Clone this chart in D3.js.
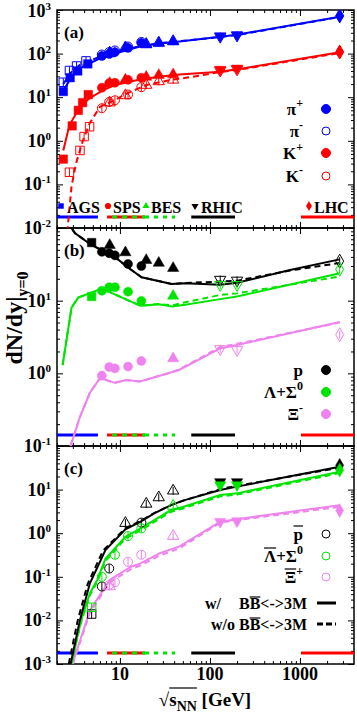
<!DOCTYPE html>
<html>
<head>
<meta charset="utf-8">
<script src="https://cdn.jsdelivr.net/npm/d3@7"></script>
<style>
body { margin: 0; background: #fff; }
svg { display: block; }
text { font-family: "Liberation Serif", "Times New Roman", serif; font-weight: bold; fill: #000; }
</style>
</head>
<body>
<svg id="chart" width="357" height="714"></svg>
<script>
// collision energies sqrt(s_NN) in GeV, values are dN/dy at y=0

// ---- panel (a): pions and kaons ----
const piPlusAGS = [[2.35,13.5],[2.8,28],[3.4,40],[4.4,58]];
const piMinusAGS = [[2.35,22],[2.75,41],[3.3,52],[4.2,68]];
const piPlusSPS = [[6.3,88],[7.6,98],[8.8,108],[12.3,135],[17.3,175]];
const piMinusSPS = [[6.3,95],[7.6,108],[8.8,118],[12.3,145],[17.3,185]];
const piPlusBES = [[7.7,100],[11.5,132],[19.6,160],[27,172],[39,187]];
const piMinusBES = [[7.7,105],[11.5,138],[19.6,165],[27,178],[39,192]];
const piPlusRHIC = [[130,253],[200,267]];
const piMinusRHIC = [[130,245],[200,262]];
const piPlusLHC = [[2760,733]];
const piMinusLHC = [[2760,733]];

const kPlusAGS = [[2.35,0.38],[2.95,2.2],[3.45,5],[3.85,7.5],[4.45,11.5]];
const kMinusAGS = [[2.75,0.19],[3.6,0.6],[4.0,1.25],[4.6,2.1]];
const kPlusSPS = [[6.3,16.5],[7.6,21],[8.8,21.5],[12.3,25],[17.3,28]];
const kMinusSPS = [[6.3,5.6],[7.6,7.8],[8.8,8.5],[12.3,11.5],[17.3,17]];
const kPlusBES = [[7.7,21],[11.5,25],[19.6,29],[27,32],[39,33]];
const kMinusBES = [[7.7,7.5],[11.5,11],[19.6,19],[27,23],[39,25]];
const kPlusRHIC = [[130,43],[200,46]];
const kMinusRHIC = [[130,41],[200,43.5]];
const kPlusLHC = [[2760,110]];
const kMinusLHC = [[2760,108]];

const piPlusModel = [[2.35,14],[2.83,27],[3.6,46],[6,78],[8.8,100],[16.7,145],[27,170],[46,190],[130,244],[200,272],[2760,700]];
const piMinusModel = [[2.35,20],[2.83,36],[3.6,55],[6,85],[8.8,105],[16.7,150],[27,172],[46,192],[130,240],[200,266],[2760,690]];
const kPlusModel = [[2.35,0.6],[2.75,2.3],[3.6,6],[4.6,9.4],[6.5,14.6],[8.8,19],[16.7,25.5],[27,29.5],[46,33],[130,38.5],[200,43.6],[2760,108]];
const kMinusModel = [[2.6,0.008],[2.9,0.09],[3.25,0.3],[3.9,1.04],[4.6,2.5],[6,6],[8.8,8.6],[12,12.3],[19.8,19],[36,24.8],[62,29],[130,38],[200,42],[2760,103]];

// ---- panel (b): baryons ----
const pAGS = [[4.85,63]];
const pSPS = [[6.3,47],[7.6,45],[8.8,42],[12.3,32],[17.3,30]];
const pBES = [[7.7,58],[11.5,46],[19.6,36],[27,33],[39,28]];
const pRHIC = [[130,19.5],[200,19]];
const pLHC = [[2760,35]];
const lamAGS = [[4.85,11.4]];
const lamSPS = [[6.3,13.7],[7.6,15.3],[8.8,15.3],[12.3,13.3],[17.3,9.9]];
const lamBES = [[39,11.6]];
const lamRHIC = [[130,16.5],[200,16.5]];
const lamLHC = [[2760,27]];
const xiSPS = [[6.3,0.93],[7.6,1.22],[8.8,1.17],[12.3,1.24],[17.3,1.48]];
const xiBES = [[39,1.6]];
const xiRHIC = [[130,2.17],[200,2.1]];
const xiLHC = [[2760,3.4]];

const pModel = [[2.35,170],[2.9,100],[3.16,85],[4.85,58],[7.4,45],[8.8,40],[11.9,29.5],[17.4,21],[37.5,17],[52.7,17.3],[130,16.5],[200,17.6],[775,26.5],[2760,37]];
const pModelNo = [[2.35,170],[2.9,100],[3.16,85],[4.85,58],[7.4,45],[8.8,40],[11.9,29.5],[17.4,21],[37.5,17],[52.7,17.5],[130,18.3],[200,18.8],[775,26],[2760,33]];
const lamModel = [[2.31,1.3],[2.9,8],[3.44,11],[6,14.3],[7.5,13.3],[16.9,8.5],[27,8.9],[38,8.3],[53,8.8],[130,10.5],[200,11.4],[2760,23.8]];
const lamModelNo = [[2.31,1.3],[2.9,8],[3.44,11],[6,14.3],[7.5,13.3],[16.9,8.5],[27,9],[38,8.6],[53,9.5],[130,12],[200,12.6],[2760,21.5]];
const xiModel = [[2.83,0.1],[3.59,0.25],[4.64,0.54],[6,0.86],[8.8,0.74],[11.9,0.81],[16.7,0.77],[36,1.02],[46,1.12],[130,2.2],[200,2.45],[2760,5.1]];
const xiModelNo = [[2.83,0.1],[3.59,0.25],[4.64,0.54],[6,0.86],[8.8,0.74],[11.9,0.81],[16.7,0.77],[36,1.02],[46,1.14],[130,2.3],[200,2.55],[2760,5.0]];

// ---- panel (c): antibaryons ----
const pbarAGS = [[4.85,0.014]];
const pbarSPS = [[6.3,0.06],[7.6,0.155],[17.3,1.75]];
const pbarBES = [[11.5,1.7],[19.6,4.7],[27,6.6],[39,9.4]];
const pbarRHIC = [[130,15],[200,15]];
const pbarLHC = [[2760,36]];
const lbarAGS = [[4.85,0.02]];
const lbarSPS = [[6.3,0.1],[8.8,0.32],[12.3,0.86],[17.3,1.29]];
const lbarBES = [[39,4.2]];
const lbarRHIC = [[130,12.7],[200,12.7]];
const lbarLHC = [[2760,28]];
const xbarSPS = [[7.6,0.065],[8.8,0.075],[12.3,0.22],[17.3,0.32]];
const xbarBES = [[7.7,0.06],[39,0.86]];
const xbarRHIC = [[130,1.84],[200,1.9]];
const xbarLHC = [[2760,3.3]];

const pbarModel = [[2.83,0.001],[3.59,0.01],[4.64,0.071],[6.9,0.41],[11.5,1.23],[17,1.84],[24,2.86],[37,4.4],[50,5.6],[130,9.8],[200,11.7],[2760,33.5]];
const pbarModelNo = [[2.7,0.001],[3.4,0.01],[4.4,0.07],[6.5,0.4],[11.5,1.3],[17,1.9],[24,2.9],[37,4.4],[50,5.5],[130,10.3],[200,12.2],[2760,32]];
const lbarModel = [[2.9,0.001],[3.7,0.01],[4.64,0.042],[5.6,0.085],[6.9,0.26],[11.5,0.83],[17,1.29],[37,3.4],[50,4.0],[130,7.5],[200,8.2],[2760,25.7]];
const lbarModelNo = [[2.85,0.001],[3.7,0.009],[4.64,0.038],[5.6,0.077],[6.9,0.23],[11.5,0.75],[17,1.17],[37,3.1],[50,3.7],[130,7.0],[200,7.7],[2760,24]];
const xbarModel = [[2.96,0.001],[4.64,0.017],[7.7,0.085],[13.3,0.17],[16.7,0.2],[27.8,0.35],[46,0.5],[130,1.84],[200,2.1],[2760,4.4]];
const xbarModelNo = [[3.0,0.001],[4.64,0.015],[7.7,0.075],[13.3,0.15],[16.7,0.18],[27.8,0.31],[46,0.45],[130,1.75],[200,2.0],[2760,4.0]];

// facility energy ranges shown as bars at the bottom of each panel
const facilities = ['AGS', 'SPS', 'BES', 'RHIC', 'LHC'];
const facilityRanges = [[2, 5.7], [7.2, 19], [19, 41], [62, 190], [1025, 3981]];

const yTickExp = { a: [-2,-1,0,1,2,3], b: [-1,0,1], c: [-3,-2,-1,0,1] };
const xTickLabels = [10, 100, 1000];

const blue = '#0000ff', red = '#ff0000', green = '#00e400', pink = '#ee82ee', black = '#000';

const svg = d3.select('#chart');
const left = 57, right = 354;
const x = d3.scaleLog().domain([2, Math.pow(10, 3.6)]).range([left, right]);

const panels = [
    {id: 'a', top: 10, bottom: 228, dom: [1e-2, 1e3]},
    {id: 'b', top: 228, bottom: 446, dom: [1e-1, 1e2]},
    {id: 'c', top: 446, bottom: 664, dom: [1e-3, 1e2]}
];
panels.forEach(function(p) {
    p.y = d3.scaleLog().domain(p.dom).range([p.bottom, p.top]);
});
const P = {a: panels[0], b: panels[1], c: panels[2]};

// minor/major tick values
function logTicks(dom, minor) {
    let out = [];
    const lo = Math.floor(Math.log10(dom[0])), hi = Math.ceil(Math.log10(dom[1]));
    for (let e = lo; e <= hi; e++) {
        if (!minor) { out.push(Math.pow(10, e)); continue; }
        for (let m = 2; m <= 9; m++) out.push(m * Math.pow(10, e));
    }
    return out.filter(v => v >= dom[0] * 0.999 && v <= dom[1] * 1.001);
}

const defs = svg.append('defs');

panels.forEach(function(p) {
    defs.append('clipPath').attr('id', 'clip-' + p.id)
        .append('rect').attr('x', left).attr('y', p.top)
        .attr('width', right - left).attr('height', p.bottom - p.top);

    // ticks, inward on all sides
    const axes = [
        [d3.axisLeft(p.y), 'translate(' + left + ',0)', logTicks(p.dom, false), 6],
        [d3.axisLeft(p.y), 'translate(' + left + ',0)', logTicks(p.dom, true), 3],
        [d3.axisRight(p.y), 'translate(' + right + ',0)', logTicks(p.dom, false), 6],
        [d3.axisRight(p.y), 'translate(' + right + ',0)', logTicks(p.dom, true), 3],
        [d3.axisBottom(x), 'translate(0,' + p.bottom + ')', logTicks(x.domain(), false), 6],
        [d3.axisBottom(x), 'translate(0,' + p.bottom + ')', logTicks(x.domain(), true), 3],
        [d3.axisTop(x), 'translate(0,' + p.top + ')', logTicks(x.domain(), false), 6],
        [d3.axisTop(x), 'translate(0,' + p.top + ')', logTicks(x.domain(), true), 3]
    ];
    axes.forEach(function(a) {
        const ag = svg.append('g').attr('transform', a[1])
            .call(a[0].tickValues(a[2]).tickSize(-a[3]).tickFormat(''));
        ag.select('.domain').remove();
        ag.selectAll('line').attr('stroke', '#000').attr('stroke-width', 1);
    });

    // y tick labels 10^n
    yTickExp[p.id].forEach(function(e) {
        const yy = Math.max(p.y(Math.pow(10, e)) + 6, 17);
        const t = svg.append('text').attr('x', 51).attr('y', yy)
            .attr('text-anchor', 'end').attr('font-size', 18);
        t.append('tspan').text('10');
        t.append('tspan').attr('dy', -7).attr('font-size', 11).text(e < 0 ? '-' + (-e) : e);
    });
});

// x tick labels
xTickLabels.forEach(function(v) {
    svg.append('text').attr('x', x(v)).attr('y', 680).attr('text-anchor', 'middle')
        .attr('font-size', 18).text(v);
});

// frames
panels.forEach(function(p) {
    svg.append('rect').attr('x', left).attr('y', p.top)
        .attr('width', right - left).attr('height', p.bottom - p.top)
        .attr('fill', 'none').attr('stroke', '#000').attr('stroke-width', 1.5);
});

const symbols = {
    square: [d3.symbolSquare, 72, 0],
    circle: [d3.symbolCircle, 64, 0],
    up: [d3.symbolTriangle, 55, 0],
    down: [d3.symbolTriangle, 55, 180],
    diamond: [d3.symbolDiamond, 55, 0]
};

function drawLine(p, data, color, dashed) {
    const line = d3.line().x(d => x(d[0])).y(d => p.y(d[1]));
    svg.append('path').datum(data)
        .attr('clip-path', 'url(#clip-' + p.id + ')')
        .attr('d', line).attr('fill', 'none').attr('stroke', color)
        .attr('stroke-width', 2).attr('stroke-dasharray', dashed ? '6,4' : null);
}

function drawMarkers(p, data, shape, color, filled) {
    const s = symbols[shape];
    const g = svg.append('g').attr('clip-path', 'url(#clip-' + p.id + ')');
    const m = g.selectAll(null).data(data).enter().append('g')
        .attr('transform', d => 'translate(' + x(d[0]) + ',' + p.y(d[1]) + ') rotate(' + s[2] + ')');
    m.append('path').attr('d', d3.symbol().type(s[0]).size(s[1]))
        .attr('fill', filled ? color : 'none').attr('stroke', color)
        .attr('stroke-width', filled ? 0.5 : 1);
    if (!filled) {
        m.append('line').attr('y1', -4).attr('y2', 4).attr('stroke', color).attr('stroke-width', 1);
    }
}

// facility bars
panels.forEach(function(p) {
    const yb = p.bottom - 11;
    const seg = (r, color, dash, off) => svg.append('line')
        .attr('x1', x(r[0])).attr('x2', x(r[1])).attr('y1', yb).attr('y2', yb)
        .attr('stroke', color).attr('stroke-width', 3)
        .attr('stroke-dasharray', dash).attr('stroke-dashoffset', off || 0);
    seg(facilityRanges[0], blue, null);
    seg(facilityRanges[1], red, null);
    seg(facilityRanges[1], green, '5,5', 5);
    seg(facilityRanges[2], green, '4,5');
    seg(facilityRanges[3], black, null);
    seg(facilityRanges[4], red, null);
});

// ---- panel (a)
drawLine(P.a, piMinusModel, blue, true);
drawLine(P.a, piPlusModel, blue, false);
drawLine(P.a, kMinusModel, red, true);
drawLine(P.a, kPlusModel, red, false);
[
    [piPlusAGS, 'square', blue, true], [piMinusAGS, 'square', blue, false],
    [piPlusSPS, 'circle', blue, true], [piMinusSPS, 'circle', blue, false],
    [piPlusBES, 'up', blue, true], [piMinusBES, 'up', blue, false],
    [piPlusRHIC, 'down', blue, true], [piMinusRHIC, 'down', blue, false],
    [piPlusLHC, 'diamond', blue, true], [piMinusLHC, 'diamond', blue, false],
    [kPlusAGS, 'square', red, true], [kMinusAGS, 'square', red, false],
    [kPlusSPS, 'circle', red, true], [kMinusSPS, 'circle', red, false],
    [kPlusBES, 'up', red, true], [kMinusBES, 'up', red, false],
    [kPlusRHIC, 'down', red, true], [kMinusRHIC, 'down', red, false],
    [kPlusLHC, 'diamond', red, true], [kMinusLHC, 'diamond', red, false]
].forEach(s => drawMarkers(P.a, s[0], s[1], s[2], s[3]));

// ---- panel (b)
drawLine(P.b, pModelNo, black, true);
drawLine(P.b, pModel, black, false);
drawLine(P.b, lamModelNo, green, true);
drawLine(P.b, lamModel, green, false);
drawLine(P.b, xiModelNo, pink, true);
drawLine(P.b, xiModel, pink, false);
[
    [pAGS, 'square', black, true], [pSPS, 'circle', black, true], [pBES, 'up', black, true],
    [pRHIC, 'down', black, false], [pLHC, 'diamond', black, false],
    [lamAGS, 'square', green, true], [lamSPS, 'circle', green, true], [lamBES, 'up', green, true],
    [lamRHIC, 'down', green, false], [lamLHC, 'diamond', green, false],
    [xiSPS, 'circle', pink, true], [xiBES, 'up', pink, true],
    [xiRHIC, 'down', pink, false], [xiLHC, 'diamond', pink, false]
].forEach(s => drawMarkers(P.b, s[0], s[1], s[2], s[3]));

// ---- panel (c)
drawLine(P.c, xbarModelNo, pink, true);
drawLine(P.c, xbarModel, pink, false);
drawLine(P.c, lbarModelNo, green, true);
drawLine(P.c, lbarModel, green, false);
drawLine(P.c, pbarModelNo, black, true);
drawLine(P.c, pbarModel, black, false);
[
    [pbarAGS, 'square', black, false], [pbarSPS, 'circle', black, false], [pbarBES, 'up', black, false],
    [pbarRHIC, 'down', black, true], [pbarLHC, 'diamond', black, true],
    [lbarAGS, 'square', green, false], [lbarSPS, 'circle', green, false], [lbarBES, 'up', green, false],
    [lbarRHIC, 'down', green, true], [lbarLHC, 'diamond', green, true],
    [xbarSPS, 'circle', pink, false], [xbarBES, 'up', pink, false],
    [xbarRHIC, 'down', pink, true], [xbarLHC, 'diamond', pink, true]
].forEach(s => drawMarkers(P.c, s[0], s[1], s[2], s[3]));

// panel labels
[['(a)', 38], ['(b)', 256], ['(c)', 474]].forEach(function(l) {
    svg.append('text').attr('x', 64).attr('y', l[1]).attr('font-size', 17).text(l[0]);
});

// facility names in (a)
const facMarks = [['square', blue, 61], ['circle', red, 108], ['up', green, 146], ['down', black, 195], ['diamond', red, 309]];
const facTextX = [67, 113, 151, 201, 314];
facilities.forEach(function(f, i) {
    const s = symbols[facMarks[i][0]];
    svg.append('path').attr('d', d3.symbol().type(s[0]).size(i === 2 || i === 3 ? 22 : 30))
        .attr('transform', 'translate(' + facMarks[i][2] + ',206) rotate(' + s[2] + ')')
        .attr('fill', facMarks[i][1]);
    svg.append('text').attr('x', facTextX[i]).attr('y', 213).attr('font-size', 16).text(f);
});

// overline helper using character positions
function overline(t, i0, i1, yy) {
    const n = t.node();
    const a = n.getStartPositionOfChar(i0).x, b = n.getEndPositionOfChar(i1).x;
    svg.append('line').attr('x1', a).attr('x2', b).attr('y1', yy).attr('y2', yy)
        .attr('stroke', '#000').attr('stroke-width', 1.2);
}

function legendText(xr, yc, parts) {
    const t = svg.append('text').attr('x', xr).attr('y', yc + 6).attr('text-anchor', 'end').attr('font-size', 17);
    parts.forEach(function(pt) {
        const s = t.append('tspan').text(pt[0]);
        if (pt[1]) s.attr('dy', pt[1]).attr('font-size', 12);
    });
    return t;
}
function legendDot(yc, color, filled, r) {
    svg.append('circle').attr('cx', 326).attr('cy', yc).attr('r', r)
        .attr('fill', filled ? color : 'none').attr('stroke', color).attr('stroke-width', 1);
}

// legend (a)
legendText(303, 109, [['π'], ['+', -8]]); legendDot(109, blue, true, 4.5);
legendText(303, 131, [['π'], ['-', -8]]); legendDot(131, blue, false, 4);
legendText(303, 153, [['K'], ['+', -8]]); legendDot(153, red, true, 4.5);
legendText(303, 176, [['K'], ['-', -8]]); legendDot(176, red, false, 4);

// legend (b)
legendText(303, 370, [['p']]); legendDot(370, black, true, 4.5);
legendText(303, 392, [['Λ+Σ'], ['0', -8]]); legendDot(392, green, true, 4.5);
legendText(303, 414, [['Ξ'], ['-', -8]]); legendDot(414, pink, true, 4.5);

// legend (c)
const lp = legendText(303, 534, [['p']]); legendDot(534, black, false, 4);
overline(lp, 0, 0, 534 - 8);
const ll = legendText(303, 556, [['Λ+Σ'], ['0', -8]]); legendDot(556, green, false, 4);
overline(ll, 0, 0, 556 - 8);
const lx = legendText(303, 577, [['Ξ'], ['+', -8]]); legendDot(577, pink, false, 4);
overline(lx, 0, 0, 577 - 8);

svg.append('text').attr('x', 205).attr('y', 609).attr('font-size', 16).text('w/');
const w1 = svg.append('text').attr('x', 307).attr('y', 609).attr('text-anchor', 'end').attr('font-size', 16).text('BB<->3M');
overline(w1, 1, 1, 597);
const w2 = svg.append('text').attr('x', 307).attr('y', 630).attr('text-anchor', 'end').attr('font-size', 16).text('w/o BB<->3M');
overline(w2, 5, 5, 618);
svg.append('line').attr('x1', 317).attr('x2', 336).attr('y1', 603).attr('y2', 603).attr('stroke', '#000').attr('stroke-width', 3);
svg.append('line').attr('x1', 317).attr('x2', 336).attr('y1', 624).attr('y2', 624).attr('stroke', '#000').attr('stroke-width', 3).attr('stroke-dasharray', '6,3');

// axis titles
const xt = svg.append('text').attr('x', 205).attr('y', 706).attr('text-anchor', 'middle').attr('font-size', 19);
xt.append('tspan').text('√');
xt.append('tspan').text('s');
xt.append('tspan').attr('dy', 5).attr('font-size', 14).text('NN');
xt.append('tspan').attr('dy', -5).text(' [GeV]');
overline(xt, 1, 3, 688);

const yt = svg.append('text').attr('transform', 'translate(22,318) rotate(-90)')
    .attr('text-anchor', 'middle').attr('font-size', 24);
yt.append('tspan').text('dN/dy|');
yt.append('tspan').attr('dy', 6).attr('font-size', 16).text('y=0');
</script>
</body>
</html>
